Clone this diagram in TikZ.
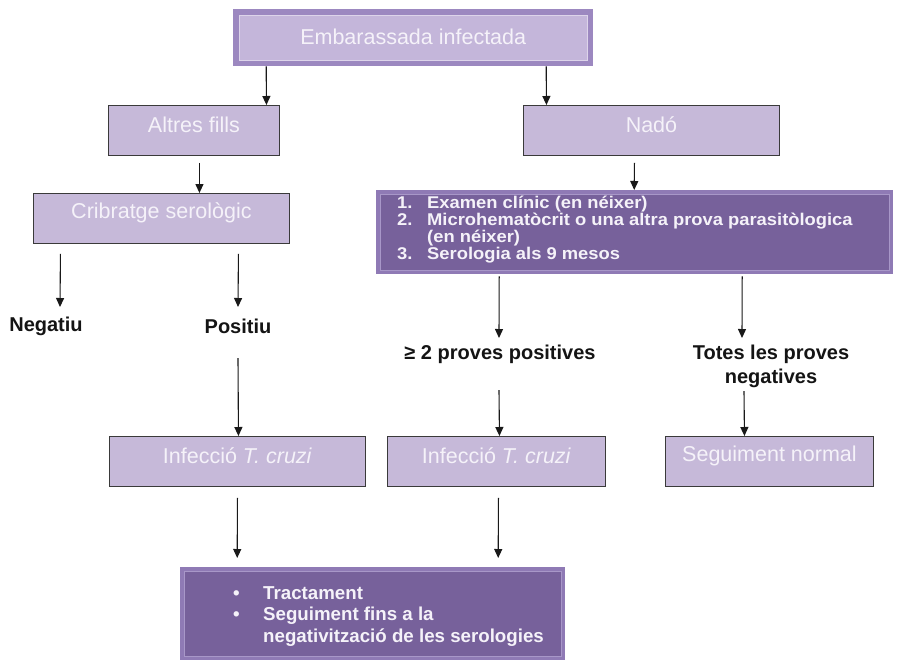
\documentclass[tikz,border=0pt]{standalone}
\usepackage{fontspec}
\setmainfont{Liberation Sans}
\newfontfamily\widefont[FakeStretch=1.08]{Liberation Sans}
\usetikzlibrary{arrows.meta}
\definecolor{lfill}{HTML}{C6B9D9}
\definecolor{lborder}{HTML}{3A3A3A}
\definecolor{txtw}{HTML}{F5F2F9}
\definecolor{embframe}{HTML}{9C88C0}
\definecolor{embline}{HTML}{DDD4EA}
\definecolor{embfill}{HTML}{C4B6DA}
\definecolor{dframe}{HTML}{8F7AB5}
\definecolor{dline}{HTML}{A897C8}
\definecolor{dfill}{HTML}{77619B}
\begin{document}
\begin{tikzpicture}[x=1pt,y=-1pt,
  lightbox/.style={draw=lborder, line width=0.9pt, fill=lfill, inner sep=0pt, anchor=north west},
  framebox/.style={fill=#1, draw=none, inner sep=0pt, anchor=north west},
  boxlabel/.style={text=txtw, inner sep=0pt, font=\fontsize{21.5}{24}\selectfont},
  blabel/.style={text=black!92, inner sep=0pt, align=center, font=\bfseries\fontsize{20}{24}\selectfont},
  listtext/.style={text=txtw, inner sep=0pt, anchor=north west, align=left},
  arr/.style={-{Triangle[width=8pt,length=9pt]}, line width=1.1pt, draw=black!90}
]
\useasboundingbox[fill=white] (0,0) rectangle (913,664);

% --- top box
\node[framebox=embframe, minimum width=360pt, minimum height=57pt] (emb) at (233,9) {};
\draw[fill=embfill, draw=embline, line width=0.8pt] ([shift={(6pt,-6pt)}]emb.north west) rectangle ([shift={(-6pt,6pt)}]emb.south east);
\node[boxlabel] (embt) at ([yshift=1pt]emb.center) {Embarassada infectada};

% --- second row
\node[lightbox, minimum width=171pt, minimum height=50pt] (altres) at (108,105) {};
\node[boxlabel] (altrest) at ([yshift=6pt]altres.center) {Altres fills};
\node[lightbox, minimum width=256pt, minimum height=50pt] (nado) at (523,105) {};
\node[boxlabel] (nadot) at ([yshift=6pt]nado.center) {Nadó};

% --- third row
\node[lightbox, minimum width=256pt, minimum height=50pt] (crib) at (33,193) {};
\node[boxlabel] (cribt) at ([yshift=6pt]crib.center) {Cribratge serològic};

\node[framebox=dframe, minimum width=517pt, minimum height=84pt] (exam) at (376,190) {};
\draw[fill=dfill, draw=dline, line width=0.8pt] ([shift={(4pt,-4pt)}]exam.north west) rectangle ([shift={(-4pt,4pt)}]exam.south east);
\node[listtext, font=\widefont\bfseries\fontsize{17}{15.3}\selectfont] (examt) at (397,196)
 {\makebox[30pt][l]{1.}Examen clínic (en néixer)\\
  \makebox[30pt][l]{2.}Microhematòcrit o una altra prova parasitòlogica\\
  \hspace*{30pt}(en néixer)\\
  \makebox[30pt][l]{3.}Serologia als 9 mesos};

% --- labels
\node[blabel] (neg) at (46,326) {Negatiu};
\node[blabel] (pos) at (238,326) {Positiu};
\node[blabel] (ge) at (500,354) {≥ 2 proves positives};
\node[blabel] (totes) at (771,366) {Totes les proves\\negatives};

% --- fourth row
\node[lightbox, minimum width=256pt, minimum height=50pt] (inf1) at (109,436) {};
\node[boxlabel] (inf1t) at ([yshift=6pt]inf1.center) {Infecció \textit{T. cruzi}};
\node[lightbox, minimum width=218pt, minimum height=50pt] (inf2) at (387,436) {};
\node[boxlabel] (inf2t) at ([yshift=6pt]inf2.center) {Infecció \textit{T. cruzi}};
\node[lightbox, minimum width=208pt, minimum height=50pt] (seg) at (665,436) {};
\node[boxlabel] (segt) at ([yshift=6pt]seg.center) {Seguiment normal};

% --- bottom box
\node[framebox=dframe, minimum width=385pt, minimum height=93pt] (tract) at (180,567) {};
\draw[fill=dfill, draw=dline, line width=0.8pt] ([shift={(4pt,-4pt)}]tract.north west) rectangle ([shift={(-4pt,4pt)}]tract.south east);
\node[listtext, font=\bfseries\fontsize{18.7}{21.5}\selectfont] (tractt) at (233,586)
 {\makebox[30pt][l]{•}Tractament\\
  \makebox[30pt][l]{•}Seguiment fins a la\\
  \hspace*{30pt}negativització de les serologies};

% --- connectors
\draw[arr] ([xshift=-147pt]emb.south) -- ([xshift=72.5pt]altres.north);
\draw[arr] ([xshift=133pt]emb.south) -- ([xshift=-105pt]nado.north);
\draw[arr] ([xshift=5.5pt,yshift=-7pt]altres.south) -- ([xshift=38pt]crib.north);
\draw[arr] ([xshift=-17pt,yshift=-7pt]nado.south) -- ([xshift=-0.5pt]exam.north);
\draw[arr] ([xshift=-101pt,yshift=-10pt]crib.south) -- ([xshift=14pt,yshift=19pt]neg.center);
\draw[arr] ([xshift=77pt,yshift=-10pt]crib.south) -- ([yshift=19pt]pos.center);
\draw[arr] ([yshift=-32pt]pos.center) -- ([xshift=1pt]inf1.north);
\draw[arr] ([xshift=-135.5pt,yshift=-2pt]exam.south) -- ([xshift=-1pt,yshift=16pt]ge.center);
\draw[arr] ([xshift=107.5pt,yshift=-2pt]exam.south) -- ([xshift=-29pt,yshift=28pt]totes.center);
\draw[arr] ([xshift=-1pt,yshift=-36pt]ge.center) -- ([xshift=3pt]inf2.north);
\draw[arr] ([xshift=-27pt,yshift=-25pt]totes.center) -- ([xshift=-25pt]seg.north);
\draw[arr] ([yshift=-11pt]inf1.south) -- ([xshift=-135.5pt,yshift=9pt]tract.north);
\draw[arr] ([xshift=2pt,yshift=-11pt]inf2.south) -- ([xshift=125.5pt,yshift=9pt]tract.north);
\end{tikzpicture}
\end{document}
